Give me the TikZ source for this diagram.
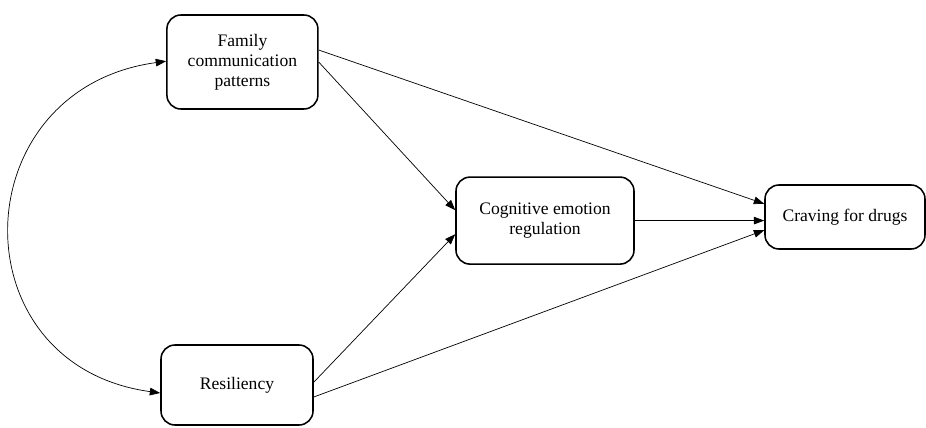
\documentclass[tikz,border=0pt]{standalone}
\usepackage{fontspec}
\setmainfont{Liberation Serif}
\usetikzlibrary{arrows.meta}

\begin{document}
\begin{tikzpicture}[
    caja/.style = {
        draw,
        line width     = 1.1pt,
        rounded corners = 0.35cm,
        align          = center,
        font           = \fontsize{12.5}{14.2}\selectfont,
        inner sep      = 0pt
    },
    flecha/.style = {
        line width = 0.5pt,
        -{Triangle[length=0.26cm, width=0.19cm]}
    },
    doble/.style = {
        line width = 0.5pt,
        {Triangle[length=0.26cm, width=0.19cm]}-{Triangle[length=0.26cm, width=0.19cm]}
    }
]

% ================================================================
%  MARCO (926 x 427 px;  1 px = 0.025 cm)
% ================================================================

\useasboundingbox (0, 0) rectangle (23.15, 10.675);

% ================================================================
%  CAJAS
% ================================================================

\node[caja, minimum width=3.775cm, minimum height=2.35cm] (fam) at (6.06, 9.125)
    {Family\\communication\\patterns};

\node[caja, minimum width=3.8cm, minimum height=2.0cm] (res) at (5.925, 1.05)
    {Resiliency};

\node[caja, minimum width=4.45cm, minimum height=2.175cm] (cog) at (13.625, 5.16)
    {Cognitive emotion\\regulation};

\node[caja, minimum width=4.0cm, minimum height=1.6cm] (crav) at (21.125, 5.25)
    {Craving for drugs};

% ================================================================
%  FLECHAS
% ================================================================

% Familia -> regulación / deseo
\draw[flecha] ([yshift=0.3cm]fam.east)  -- ([yshift=0.33cm]crav.west);
\draw[flecha] (fam.east)                -- ([yshift=0.26cm]cog.west);

% Resiliencia -> regulación / deseo
\draw[flecha] ([yshift=0.07cm]res.east) -- ([yshift=-0.34cm]cog.west);
\draw[flecha] ([yshift=-0.3cm]res.east) -- ([yshift=-0.33cm]crav.west);

% Regulación -> deseo
\draw[flecha] (cog.east) -- (crav.west |- cog.east);

% Covarianza
\draw[doble] ([yshift=0.02cm]fam.west)
    .. controls +(-5.1, -0.7) and +(-5.1, 0.7) .. ([yshift=-0.2cm]res.west);

\end{tikzpicture}
\end{document}
